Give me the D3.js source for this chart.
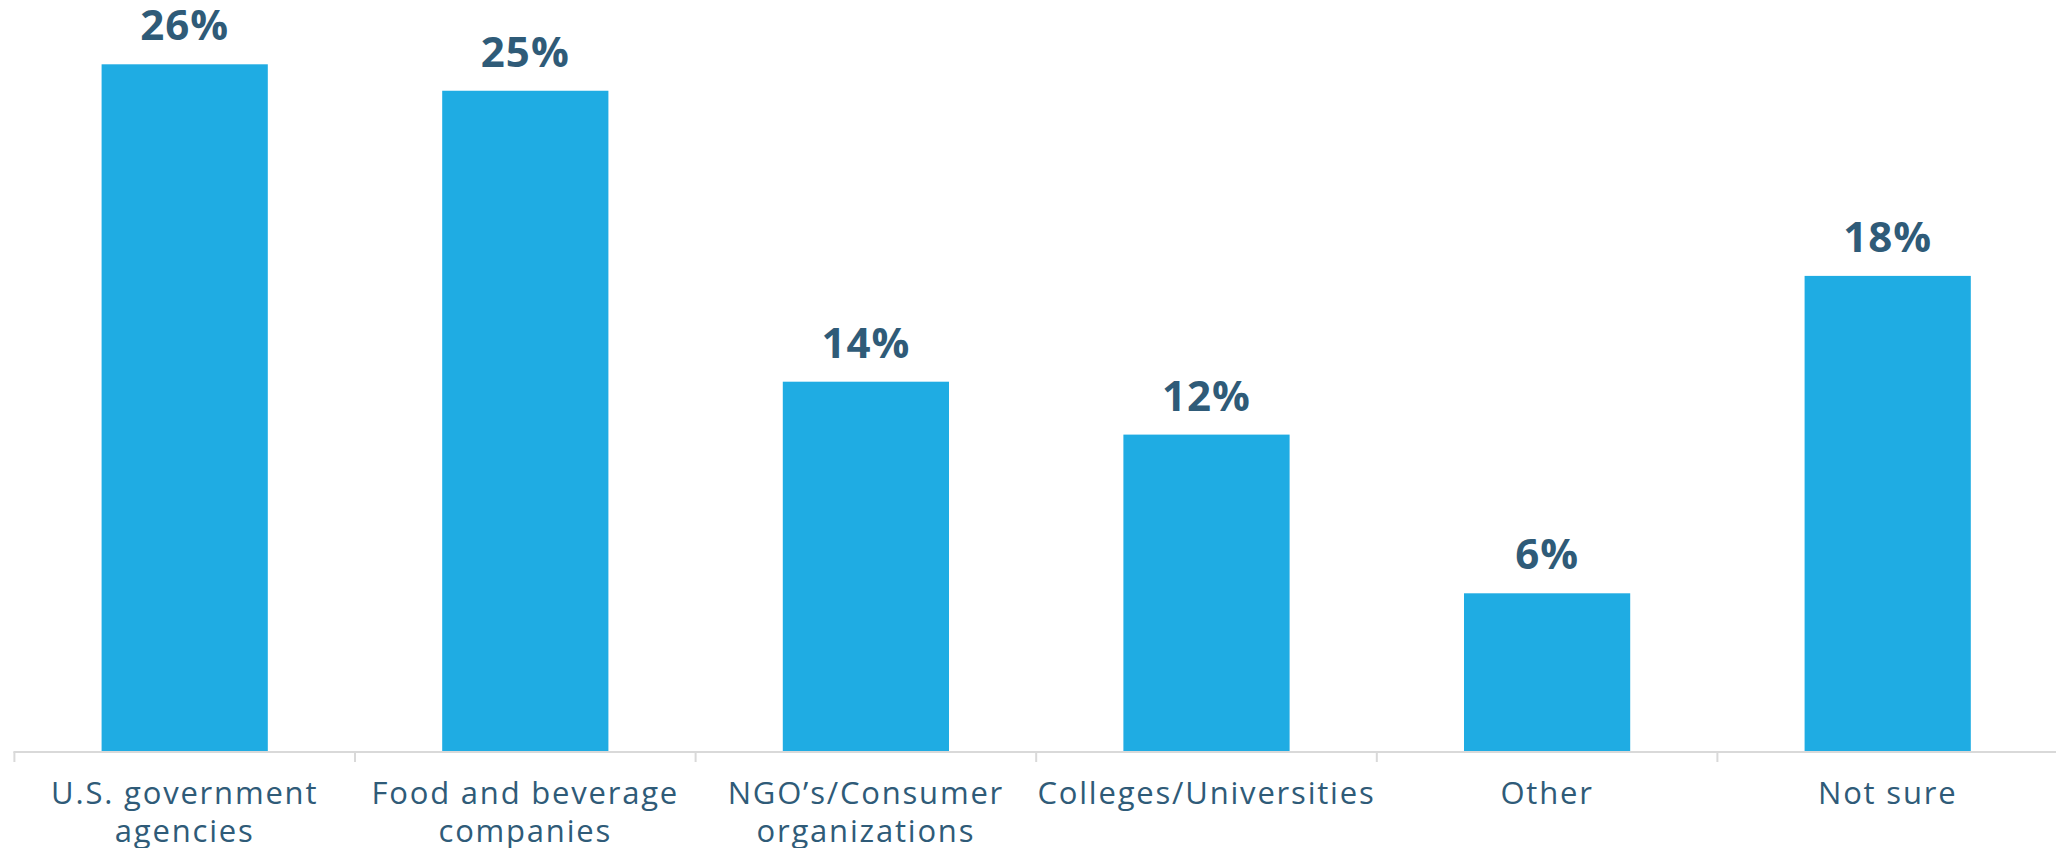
<!DOCTYPE html>
<html>
<head>
<meta charset="utf-8">
<script src="https://cdn.jsdelivr.net/npm/d3@7"></script>
<style>
  html, body { margin: 0; padding: 0; background: #ffffff; }
  svg { display: block; }
</style>
</head>
<body>
<svg id="chart" width="2056" height="848"></svg>
<script>
// Share of respondents by source
const categories = [
  "U.S. government agencies",
  "Food and beverage companies",
  "NGO\u2019s/Consumer organizations",
  "Colleges/Universities",
  "Other",
  "Not sure"
];
const values = [26, 25, 14, 12, 6, 18];
const valueLabels = ["26%", "25%", "14%", "12%", "6%", "18%"];

const W = 2056, H = 848;
const axisY = 752;
const svg = d3.select("#chart");

const x = d3.scaleBand()
  .domain(categories)
  .range([14.4, 14.4 + 340.6 * categories.length])
  .paddingInner(0.512)
  .paddingOuter(0.256);

const y = d3.scaleLinear()
  .domain([0, 26])
  .range([axisY, 64.3]);

const barColor = "#1FACE3";
const textColor = "#2F5B78";

// bars
svg.append("g")
  .selectAll("rect")
  .data(values)
  .join("rect")
  .attr("x", (d, i) => x(categories[i]))
  .attr("y", d => y(d))
  .attr("width", x.bandwidth())
  .attr("height", d => y(0) - y(d))
  .attr("fill", barColor);

// value labels
svg.append("g")
  .selectAll("text")
  .data(values)
  .join("text")
  .attr("x", (d, i) => x(categories[i]) + x.bandwidth() / 2)
  .attr("y", d => y(d) - 24)
  .attr("text-anchor", "middle")
  .attr("font-family", "'Open Sans', sans-serif")
  .attr("font-weight", 700)
  .attr("font-size", 42)
  .attr("letter-spacing", 1)
  .attr("fill", textColor)
  .text((d, i) => valueLabels[i]);

// category axis with boundary ticks
const step = x.step();
const axisG = svg.append("g");
axisG.append("line")
  .attr("x1", x.range()[0] - 1)
  .attr("x2", W)
  .attr("y1", axisY)
  .attr("y2", axisY)
  .attr("stroke", "#D9D9D9")
  .attr("stroke-width", 2);

const boundaries = d3.range(categories.length + 1).map(i => x.range()[0] + i * step);
axisG.selectAll("line.tick")
  .data(boundaries)
  .join("line")
  .attr("class", "tick")
  .attr("x1", d => d)
  .attr("x2", d => d)
  .attr("y1", axisY)
  .attr("y2", axisY + 10)
  .attr("stroke", "#D9D9D9")
  .attr("stroke-width", 2);

// category labels, wrapped to fit their slot
const maxW = 380;
const labels = svg.append("g")
  .selectAll("text")
  .data(categories)
  .join("text")
  .attr("x", d => x(d) + x.bandwidth() / 2)
  .attr("y", 804)
  .attr("text-anchor", "middle")
  .attr("font-family", "'Open Sans', sans-serif")
  .attr("font-weight", 400)
  .attr("font-size", 31)
  .attr("letter-spacing", 1.8)
  .attr("fill", textColor);

labels.each(function(d) {
  const t = d3.select(this);
  const words = d.split(" ");
  const cx = +t.attr("x");
  let line = [];
  let tspan = t.append("tspan").attr("x", cx).attr("dy", 0);
  for (const w of words) {
    line.push(w);
    tspan.text(line.join(" "));
    if (tspan.node().getComputedTextLength() > maxW && line.length > 1) {
      line.pop();
      tspan.text(line.join(" "));
      line = [w];
      tspan = t.append("tspan").attr("x", cx).attr("dy", 38).text(w);
    }
  }
});
</script>
</body>
</html>
